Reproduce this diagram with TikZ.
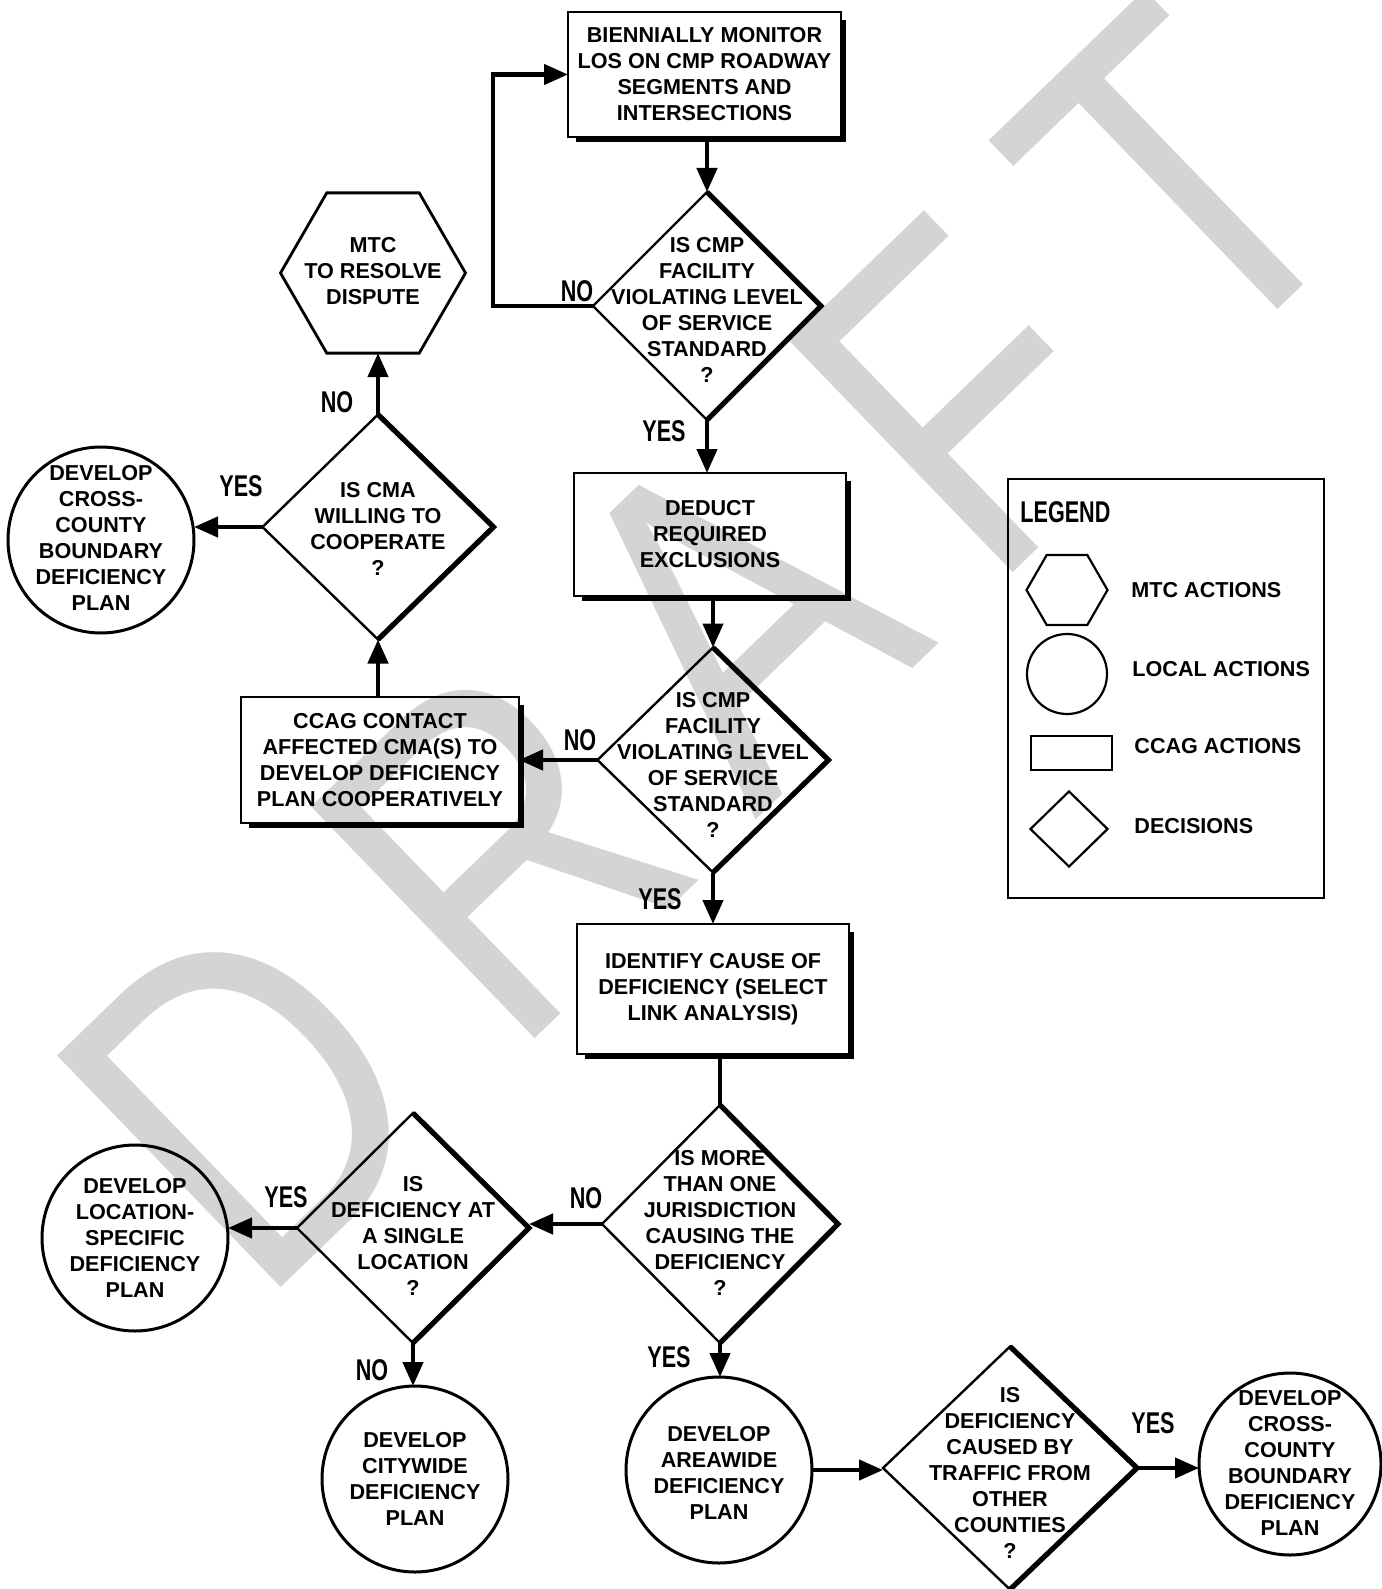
\documentclass[tikz,border=0pt]{standalone}
\usepackage{fontspec}
\setmainfont{Liberation Sans}
\newfontfamily\condfont[FakeStretch=0.72]{Liberation Sans}
\newfontfamily\wmfont[FakeStretch=0.82]{Liberation Sans}
\usetikzlibrary{shapes.geometric,arrows.meta}
\definecolor{wmgray}{RGB}{212,212,212}
\tikzset{
  txt/.style={font=\bfseries\fontsize{10.8}{13}\selectfont, align=center, inner sep=0pt},
  boxnode/.style={draw, line width=1.3pt, inner sep=0pt, outer sep=0pt, font=\bfseries\fontsize{10.8}{13}\selectfont, align=center},
  dia/.style={diamond, draw, line width=1.2pt, inner sep=0pt, outer sep=0pt},
  circ/.style={circle, draw, line width=1.5pt, inner sep=0pt, outer sep=0pt, minimum size=93pt},
  hexa/.style={regular polygon, regular polygon sides=6, draw, line width=1.4pt, inner sep=0pt, outer sep=0pt},
  arr/.style={line width=2.2pt, -{Triangle[length=12pt,width=10pt]}},
  conn/.style={line width=2.2pt},
  lbl/.style={font=\condfont\bfseries\fontsize{15}{15}\selectfont, inner sep=0pt},
  thickedge/.style={line width=2.6pt, line join=miter},
  shadowline/.style={line width=2pt},
  wm/.style={font=\wmfont\fontsize{234}{234}\selectfont, text=wmgray, rotate=44, inner sep=0pt, anchor=center},
  legtxt/.style={font=\bfseries\fontsize{10.8}{13}\selectfont, inner sep=0pt, anchor=west},
}
\begin{document}
\begin{tikzpicture}[x=0.5pt,y=-0.5pt]
\useasboundingbox (0,0) rectangle (1381,1589);
% watermark
\node[wm] (wD) at (246,1097) {D};
\node[wm] (wR) at (500,848) {R};
\node[wm] (wA) at (736,616) {A};
\node[wm] (wF) at (963,397) {F};
\node[wm] (wT) at (1179,181) {T};

% rectangles
\node[boxnode, minimum width=136.5pt, minimum height=62.5pt] (r1) at (704.5,74.5) {BIENNIALLY MONITOR\\LOS ON CMP ROADWAY\\SEGMENTS AND\\INTERSECTIONS};
\node[boxnode, minimum width=136pt, minimum height=61.5pt] (r2) at (710,534.5) {DEDUCT\\REQUIRED\\EXCLUSIONS};
\node[boxnode, minimum width=139pt, minimum height=63pt] (r3) at (380,760) {CCAG CONTACT\\AFFECTED CMA(S) TO\\DEVELOP DEFICIENCY\\PLAN COOPERATIVELY};
\node[boxnode, minimum width=136pt, minimum height=65pt] (r4) at (713,989) {IDENTIFY CAUSE OF\\DEFICIENCY (SELECT\\LINK ANALYSIS)};
\foreach \r in {r1,r2,r3,r4}{
  \draw[shadowline] ([shift={(1.6pt,-4pt)}]\r.north east) -- ([shift={(1.6pt,-1.6pt)}]\r.south east) -- ([shift={(4pt,-1.6pt)}]\r.south west);
}

% diamonds
\node[dia, minimum width=114pt, minimum height=114pt] (d1) at (707,306) {};
\node[dia, minimum width=115.5pt, minimum height=112.5pt] (d2) at (713,760) {};
\node[dia, minimum width=115.5pt, minimum height=112.5pt] (d3) at (378,527) {};
\node[dia, minimum width=118pt, minimum height=119pt] (d4) at (720,1224) {};
\node[dia, minimum width=116pt, minimum height=115pt] (d5) at (413,1228) {};
\node[dia, minimum width=127pt, minimum height=121.5pt] (d6) at (1010,1468) {};
\foreach \d in {d1,d2,d3,d4,d5,d6}{
  \draw[thickedge] (\d.north) -- (\d.east) -- (\d.south);
}
\node[txt] (d1t) at (707,310) {IS CMP\\FACILITY\\VIOLATING LEVEL\\OF SERVICE\\STANDARD\\?};
\node[txt] (d2t) at (713,765) {IS CMP\\FACILITY\\VIOLATING LEVEL\\OF SERVICE\\STANDARD\\?};
\node[txt] (d3t) at (378,529) {IS CMA\\WILLING TO\\COOPERATE\\?};
\node[txt] (d4t) at (720,1223) {IS MORE\\THAN ONE\\JURISDICTION\\CAUSING THE\\DEFICIENCY\\?};
\node[txt] (d5t) at (413,1236) {IS\\DEFICIENCY AT\\A SINGLE\\LOCATION\\?};
\node[txt] (d6t) at (1010,1473) {IS\\DEFICIENCY\\CAUSED BY\\TRAFFIC FROM\\OTHER\\COUNTIES\\?};

% hexagon
\node[hexa, minimum size=92.5pt] (hex) at (373,273) {};
\node[txt] (hext) at (373,271) {MTC\\TO RESOLVE\\DISPUTE};

% circles
\node[circ] (c1) at (101,540) {};
\node[txt] (c1t) at (101,538) {DEVELOP\\CROSS-\\COUNTY\\BOUNDARY\\DEFICIENCY\\PLAN};
\node[circ] (c2) at (135,1238) {};
\node[txt] (c2t) at (135,1238) {DEVELOP\\LOCATION-\\SPECIFIC\\DEFICIENCY\\PLAN};
\node[circ] (c3) at (415,1479) {};
\node[txt] (c3t) at (415,1479) {DEVELOP\\CITYWIDE\\DEFICIENCY\\PLAN};
\node[circ] (c4) at (719,1470) {};
\node[txt] (c4t) at (719,1473) {DEVELOP\\AREAWIDE\\DEFICIENCY\\PLAN};
\node[circ, minimum size=91pt] (c5) at (1290,1464) {};
\node[txt] (c5t) at (1290,1463) {DEVELOP\\CROSS-\\COUNTY\\BOUNDARY\\DEFICIENCY\\PLAN};

% connectors
\coordinate (lp) at (493,0);
\draw[arr] (r1.south -| d1.north) -- (d1.north);
\draw[arr] (d1.west) -- (d1.west -| lp) |- (r1.west);
\draw[arr] (d1.south) -- (d1.south |- r2.north);
\draw[arr] (r2.south -| d2.north) -- (d2.north);
\draw[arr] (d2.west) -- (d2.west -| r3.east);
\draw[arr] (r3.north -| d3.south) -- (d3.south);
\draw[arr] (d3.north) -- (d3.north |- hex.south);
\draw[arr] (d3.west) -- (d3.west -| c1.east);
\draw[arr] (d2.south) -- (d2.south |- r4.north);
\draw[conn] (r4.south -| d4.north) -- (d4.north);
\draw[arr] (d4.west) -- (d4.west -| d5.east);
\draw[arr] (d5.west) -- (d5.west -| c2.east);
\draw[arr] (d5.south) -- (d5.south |- c3.north);
\draw[arr] (d4.south) -- (d4.south |- c4.north);
\draw[arr] (c4.east) -- (c4.east -| d6.west);
\draw[arr] (d6.east) -- (d6.east -| c5.west);

% YES / NO labels
\node[lbl] (n1) at (577,291) {NO};
\node[lbl] (y1) at (664,431) {YES};
\node[lbl] (n3) at (337,402) {NO};
\node[lbl] (y3) at (241,486) {YES};
\node[lbl] (n2) at (580,740) {NO};
\node[lbl] (y2) at (660,899) {YES};
\node[lbl] (n4) at (586,1198) {NO};
\node[lbl] (y5) at (286,1197) {YES};
\node[lbl] (n5) at (372,1370) {NO};
\node[lbl] (y4) at (669,1357) {YES};
\node[lbl] (y6) at (1153,1423) {YES};

% legend
\node[draw, line width=1.3pt, minimum width=158pt, minimum height=209.5pt, inner sep=0pt] (leg) at (1166,688.5) {};
\node[lbl, anchor=west] (legt) at (1020,512) {LEGEND};
\node[hexa, line width=1.1pt, minimum size=40.5pt] (lhex) at (1067,590) {};
\node[legtxt] (lhext) at (1131,590) {MTC ACTIONS};
\node[circle, draw, line width=1.1pt, inner sep=0pt, minimum size=40pt] (lcir) at (1067,674) {};
\node[legtxt] (lcirt) at (1132,669) {LOCAL ACTIONS};
\node[draw, line width=1.1pt, inner sep=0pt, minimum width=40.5pt, minimum height=17pt] (lrec) at (1071.5,753) {};
\node[legtxt] (lrect) at (1134,746) {CCAG ACTIONS};
\node[diamond, draw, line width=1.1pt, inner sep=0pt, minimum width=39pt, minimum height=38pt] (ldia) at (1069,829) {};
\node[legtxt] (ldiat) at (1134,826) {DECISIONS};
\end{tikzpicture}
\end{document}
